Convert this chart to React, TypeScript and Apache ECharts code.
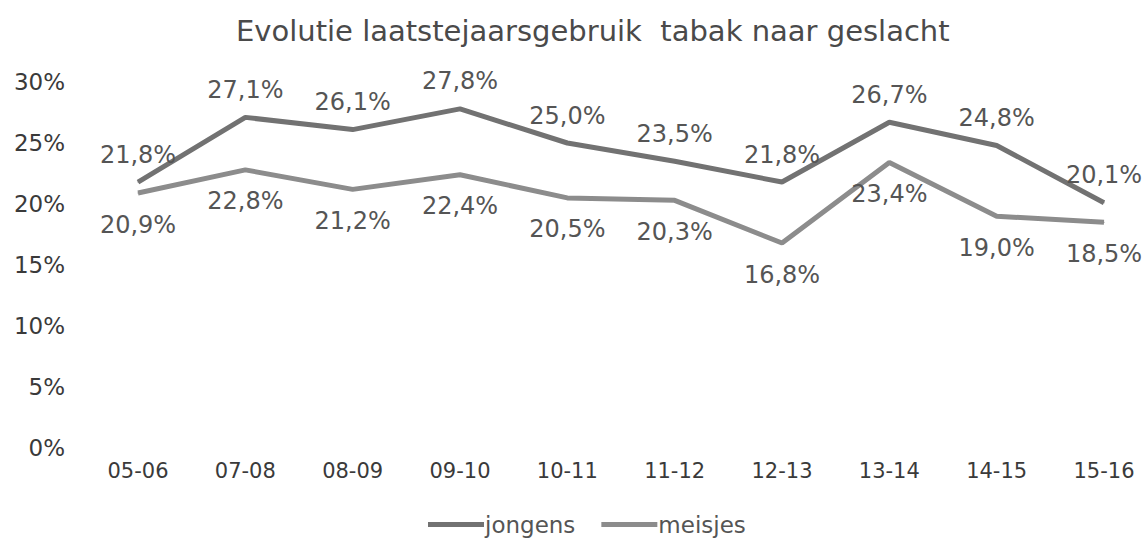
import React, { useEffect, useRef } from "react";
import * as echarts from "echarts";

const categories = ["05-06", "07-08", "08-09", "09-10", "10-11", "11-12", "12-13", "13-14", "14-15", "15-16"];
const jongens = [21.8, 27.1, 26.1, 27.8, 25.0, 23.5, 21.8, 26.7, 24.8, 20.1];
const meisjes = [20.9, 22.8, 21.2, 22.4, 20.5, 20.3, 16.8, 23.4, 19.0, 18.5];
const yTicks = { min: 0, max: 30, interval: 5 };

const fmt = (v: number) => v.toFixed(1).replace(".", ",") + "%";

export default function App() {
  const ref = useRef<HTMLDivElement>(null);
  useEffect(() => {
    if (!ref.current) return;
    const chart = echarts.init(ref.current, null, { renderer: "svg" });
    const font = "DejaVu Sans, Verdana, sans-serif";
    chart.setOption({
      animation: false,
      backgroundColor: "#ffffff",
      textStyle: { fontFamily: font },
      title: {
        text: "Evolutie laatstejaarsgebruik  tabak naar geslacht",
        left: 231,
        top: 11,
        textStyle: { fontFamily: font, fontSize: 29, fontWeight: "normal", color: "#4a4a4a" },
      },
      legend: {
        bottom: 6,
        left: 423,
        itemWidth: 56,
        itemHeight: 5,
        itemGap: 26,
        icon: "rect",
        textStyle: { fontFamily: font, fontSize: 23, color: "#555555", padding: [0, 0, 0, -4] },
        data: ["jongens", "meisjes"],
      },
      grid: { left: 138, right: 41, top: 82, bottom: 99, containLabel: false },
      xAxis: {
        type: "category",
        data: categories,
        boundaryGap: false,
        axisLine: { show: false },
        axisTick: { show: false },
        axisLabel: { fontFamily: font, fontSize: 21, color: "#3a3a3a", margin: 12 },
        splitLine: { show: false },
      },
      yAxis: {
        type: "value",
        min: yTicks.min,
        max: yTicks.max,
        interval: yTicks.interval,
        axisLine: { show: false },
        axisTick: { show: false },
        splitLine: { show: false },
        axisLabel: {
          fontFamily: font,
          fontSize: 23,
          color: "#3a3a3a",
          margin: 73,
          formatter: (v: number) => v + "%",
        },
      },
      series: [
        {
          name: "jongens",
          type: "line",
          data: jongens,
          symbol: "circle",
          symbolSize: 1,
          color: "#727272",
          lineStyle: { width: 5, color: "#727272" },
          itemStyle: { color: "#727272" },
          label: {
            show: true,
            position: "top",
            distance: 15,
            fontFamily: font,
            fontSize: 24,
            color: "#555555",
            formatter: (p: any) => fmt(p.value),
          },
        },
        {
          name: "meisjes",
          type: "line",
          data: meisjes,
          symbol: "circle",
          symbolSize: 1,
          color: "#8c8c8c",
          lineStyle: { width: 5, color: "#8c8c8c" },
          itemStyle: { color: "#8c8c8c" },
          label: {
            show: true,
            position: "bottom",
            distance: 19,
            fontFamily: font,
            fontSize: 24,
            color: "#555555",
            formatter: (p: any) => fmt(p.value),
          },
        },
      ],
    });
    return () => chart.dispose();
  }, []);
  return (
    <div
      ref={ref}
      style={{ position: "absolute", left: 0, top: 0, width: 1145, height: 547, background: "#fff" }}
    />
  );
}
